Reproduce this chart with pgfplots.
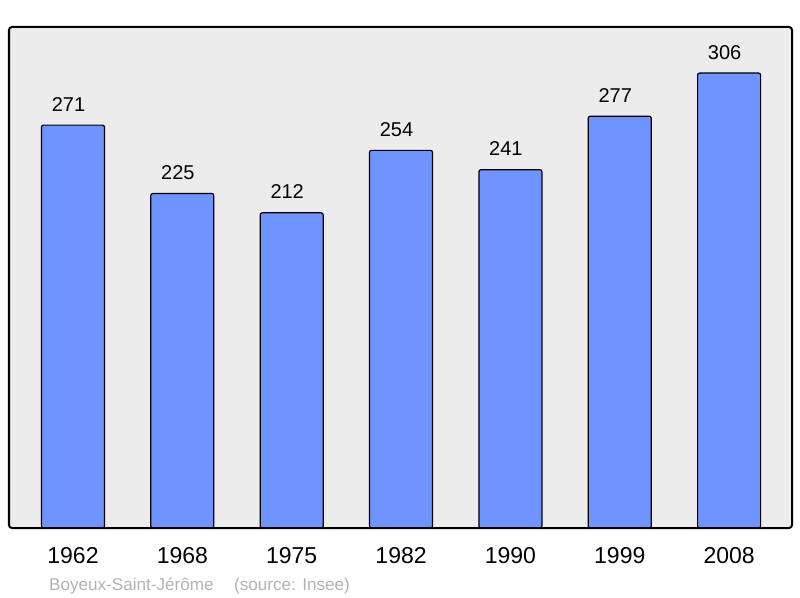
\documentclass[border=0pt]{standalone}
\usepackage{pgfplots}
\pgfplotsset{compat=1.18}
\usepackage{fontspec}
\setmainfont{Liberation Sans}
\definecolor{barblue}{HTML}{7094FF}
\definecolor{bggray}{HTML}{ECECEC}
\definecolor{footgray}{HTML}{B3B3B3}
\begin{document}
\begin{tikzpicture}
\useasboundingbox (-9bp,-70bp) rectangle (791bp,528bp);
\begin{axis}[
  at={(0,0)}, anchor=south west,
  scale only axis, width=783bp, height=501bp,
  xmin=-0.585, xmax=6.575, ymin=0, ymax=337,
  axis lines=none,
  axis background/.style={fill=bggray},
  xtick=data,
  xticklabels={1962,1968,1975,1982,1990,1999,2008},
  ytick=\empty,
  bar width=0.576,
  /pgf/number format/assume math mode=true,
  nodes near coords,
  nodes near coords style={font=\fontsize{20bp}{22bp}\selectfont, inner sep=0pt, anchor=base, yshift=14bp, xshift=-4.5bp, text=black},
  clip=false,
]
\addplot[ybar, fill=barblue, draw=black, line width=1.2bp, rounded corners=2bp] coordinates {
(0,271) (1,225) (2,212) (3,254) (4,241) (5,277) (6,306)
};
\draw[line width=2bp, rounded corners=3bp] (rel axis cs:0,0) rectangle (rel axis cs:1,1);
\foreach \i/\y in {0/1962,1/1968,2/1975,3/1982,4/1990,5/1999,6/2008} {
  \edef\tmp{\noexpand\node[anchor=north, inner sep=0pt, font=\noexpand\fontsize{23bp}{25bp}\noexpand\selectfont] at (axis cs:\i,0) [yshift=-19bp] {\y};}
  \tmp
}
\end{axis}
\node[anchor=base west, inner sep=0pt, text=footgray, font=\fontsize{17.1bp}{19bp}\selectfont] at (40bp,-62bp) {Boyeux-Saint-Jérôme};
\node[anchor=base west, inner sep=0pt, text=footgray, font=\fontsize{17.1bp}{19bp}\selectfont] at (225bp,-62bp) {(source: Insee)};
\end{tikzpicture}
\end{document}
